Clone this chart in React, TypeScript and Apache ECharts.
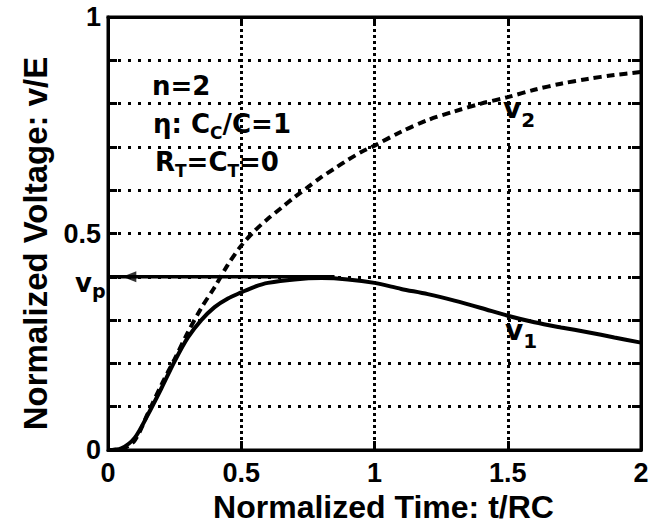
import React, { useEffect, useRef } from "react";
import * as echarts from "echarts";

// ---- data ----
const tV1 = [0, 0.05, 0.1, 0.15, 0.2, 0.25, 0.3, 0.35, 0.4, 0.45, 0.5, 0.55, 0.6, 0.7, 0.8, 0.9, 1.0, 1.1, 1.2, 1.3, 1.4, 1.5, 1.6, 1.7, 1.8, 1.9, 2.0];
const v1 = [0, 0.004, 0.028, 0.082, 0.142, 0.205, 0.26, 0.3, 0.33, 0.35, 0.364, 0.377, 0.386, 0.394, 0.397, 0.394, 0.386, 0.372, 0.36, 0.345, 0.328, 0.31, 0.295, 0.283, 0.272, 0.26, 0.248];
const tV2 = [0, 0.05, 0.1, 0.15, 0.2, 0.25, 0.3, 0.35, 0.4, 0.45, 0.5, 0.55, 0.6, 0.65, 0.7, 0.75, 0.8, 0.85, 0.9, 0.95, 1.0, 1.1, 1.2, 1.3, 1.4, 1.5, 1.6, 1.7, 1.8, 1.9, 2.0];
const v2 = [0, 0.002, 0.022, 0.085, 0.15, 0.21, 0.272, 0.328, 0.376, 0.428, 0.472, 0.506, 0.534, 0.559, 0.584, 0.607, 0.63, 0.65, 0.67, 0.688, 0.703, 0.735, 0.762, 0.782, 0.8, 0.815, 0.832, 0.846, 0.857, 0.866, 0.873];
const vp = 0.4;
const vpLineT = [0, 0.85];
const vpArrowT = 0.08;
const yLabelValues = [0, 0.5, 1];
const yLabelTexts = ["0", "0.5", "1"];
const xTitle = "Normalized Time: t/RC";
const yTitle = "Normalized Voltage: v/E";

const LS = '"Liberation Sans", Arial, sans-serif';
const DJ = '"DejaVu Sans", sans-serif';

let ctx: CanvasRenderingContext2D | null = null;
function measure(text: string, fs: number): number {
  if (!ctx) ctx = document.createElement("canvas").getContext("2d");
  if (!ctx) return text.length * fs * 0.6;
  ctx.font = `bold ${fs}px "DejaVu Sans"`;
  return ctx.measureText(text).width;
}

type Part = [string, number, number];
function seq(x0: number, baseline: number, parts: Part[]) {
  let x = x0;
  const els: any[] = [];
  for (const [text, fs, dy] of parts) {
    els.push({
      type: "text",
      x,
      y: baseline + dy - 0.35 * fs,
      silent: true,
      z: 10,
      style: {
        text,
        fill: "#000",
        fontSize: fs,
        fontWeight: "bold",
        fontFamily: DJ,
        align: "left",
        verticalAlign: "middle",
      },
    });
    x += measure(text, fs);
  }
  return els;
}

export default function App() {
  const ref = useRef<HTMLDivElement>(null);
  useEffect(() => {
    if (!ref.current) return;
    const chart = echarts.init(ref.current, null, { renderer: "svg" });
    const graphics = [
      ...seq(152, 95, [["n=2", 26, 0]]),
      ...seq(153, 133, [["η: C", 26, 0], ["C", 17, 6], ["/C=1", 26, 0]]),
      ...seq(155, 171, [["R", 26, 0], ["T", 17, 6], ["=C", 26, 0], ["T", 17, 6], ["=0", 26, 0]]),
      ...seq(503, 118, [["v", 28, 0], ["2", 20, 9]]),
      ...seq(505, 340, [["v", 28, 0], ["1", 20, 8]]),
      ...seq(75, 292, [["v", 26, 0], ["p", 19, 6]]),
    ];
    const axisLine = { show: true, onZero: false, lineStyle: { color: "#000", width: 3 } };
    const tick = { show: true, inside: true, length: 9, lineStyle: { color: "#000", width: 3 } };
    chart.setOption({
      animation: false,
      backgroundColor: "#fff",
      grid: {
        left: 108,
        top: 17,
        width: 533,
        height: 433,
        show: true,
        borderColor: "#000",
        borderWidth: 3,
      },
      xAxis: [
        {
          type: "value",
          min: 0,
          max: 2,
          interval: 0.5,
          position: "bottom",
          axisLine,
          axisTick: tick,
          axisLabel: { color: "#000", fontSize: 27, fontWeight: "bold", fontFamily: LS, margin: 9, lineHeight: 27 },
          splitLine: { show: true, lineStyle: { color: "#000", width: 3, type: "dotted" } },
          name: xTitle,
          nameLocation: "middle",
          nameGap: 39,
          nameTextStyle: { color: "#000", fontSize: 32, fontWeight: "bold", fontFamily: LS, lineHeight: 32, padding: [0, 0, 0, 18] },
        },
        {
          type: "value",
          min: 0,
          max: 2,
          interval: 0.5,
          position: "top",
          axisLine,
          axisTick: tick,
          axisLabel: { show: false },
          splitLine: { show: false },
        },
      ],
      yAxis: [
        {
          type: "value",
          min: 0,
          max: 1,
          interval: 0.1,
          position: "left",
          axisLine,
          axisTick: tick,
          axisLabel: {
            color: "#000",
            fontSize: 27,
            fontWeight: "bold",
            fontFamily: LS,
            margin: 7,
            formatter: (val: number) => {
              const i = yLabelValues.findIndex((v) => Math.abs(v - val) < 1e-6);
              return i >= 0 ? yLabelTexts[i] : "";
            },
          },
          splitLine: { show: true, lineStyle: { color: "#000", width: 3, type: [3, 7] } },
          name: yTitle,
          nameLocation: "middle",
          nameGap: 56,
          nameRotate: 90,
          nameTextStyle: { color: "#000", fontSize: 33, fontWeight: "bold", fontFamily: LS, lineHeight: 33, padding: [0, 20, 0, 0] },
        },
        {
          type: "value",
          min: 0,
          max: 1,
          interval: 0.1,
          position: "right",
          axisLine,
          axisTick: tick,
          axisLabel: { show: false },
          splitLine: { show: false },
        },
      ],
      series: [
        {
          type: "line",
          name: "v1",
          data: tV1.map((t, i) => [t, v1[i]]),
          symbol: "none",
          smooth: 0.3,
          lineStyle: { color: "#000", width: 4 },
          z: 4,
        },
        {
          type: "line",
          name: "v2",
          data: tV2.map((t, i) => [t, v2[i]]),
          symbol: "none",
          smooth: 0.3,
          lineStyle: { color: "#000", width: 4, type: [8, 5] },
          z: 4,
        },
        {
          type: "line",
          name: "vp",
          data: vpLineT.map((t) => [t, vp]),
          symbol: "none",
          lineStyle: { color: "#000", width: 3.5 },
          z: 4,
        },
        {
          type: "scatter",
          name: "vpArrow",
          data: [[vpArrowT, vp]],
          symbol: "triangle",
          symbolSize: [11, 14],
          symbolRotate: 90,
          itemStyle: { color: "#000" },
          z: 5,
        },
      ],
      graphic: graphics,
    });
    return () => chart.dispose();
  }, []);
  return (
    <div
      ref={ref}
      style={{ position: "absolute", left: 0, top: 0, width: 672, height: 529, background: "#fff" }}
    />
  );
}
